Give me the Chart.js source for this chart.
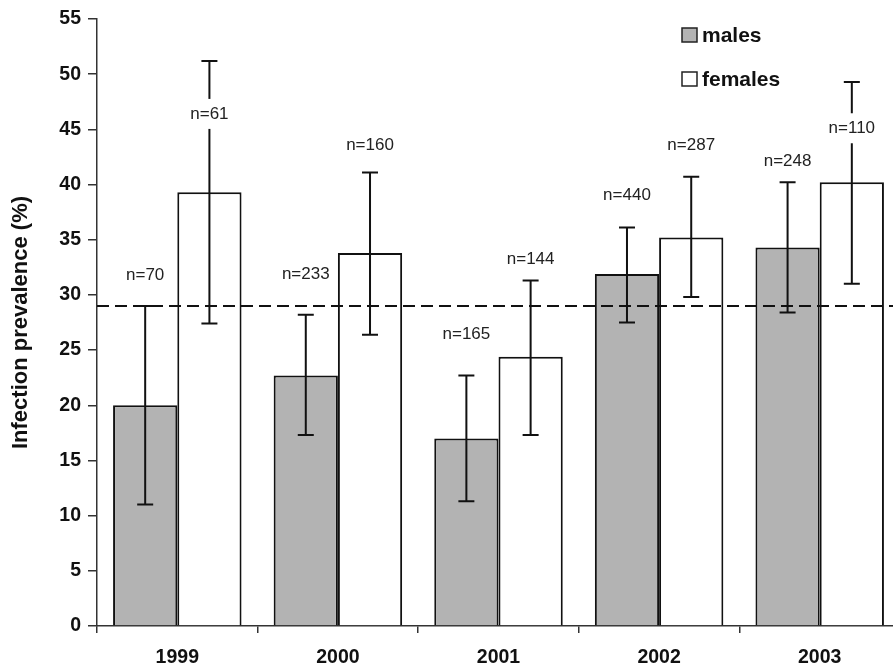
<!DOCTYPE html>
<html>
<head>
<meta charset="utf-8">
<script src="https://cdn.jsdelivr.net/npm/chart.js@4.4.1/dist/chart.umd.min.js"></script>
<style>
    html, body { margin: 0; padding: 0; background: #fff; overflow: hidden; }
    #wrap { width: 905px; height: 666px; }
</style>
</head>
<body>
<div id="wrap"><canvas id="myChart"></canvas></div>
<script>
const years = ["1999", "2000", "2001", "2002", "2003"];
const yTicks = [0, 5, 10, 15, 20, 25, 30, 35, 40, 45, 50, 55];

const males = [20.0, 22.7, 17.0, 31.9, 34.3];
const malesLow = [11.0, 17.3, 11.3, 27.5, 28.4];
const malesHigh = [29.0, 28.2, 22.7, 36.1, 40.2];
const malesN = [70, 233, 165, 440, 248];
const malesNAt = [31.8, 31.9, 26.4, 39.0, 42.1];

const females = [39.3, 33.8, 24.4, 35.2, 40.2];
const femalesLow = [27.4, 26.4, 17.3, 29.8, 31.0];
const femalesHigh = [51.2, 41.1, 31.3, 40.7, 49.3];
const femalesN = [61, 160, 144, 287, 110];
const femalesNAt = [46.4, 43.6, 33.2, 43.6, 45.1];

// mean prevalence (dashed line)
const overall = 29;

const errors = [
    { low: malesLow, high: malesHigh, n: malesN, at: malesNAt },
    { low: femalesLow, high: femalesHigh, n: femalesN, at: femalesNAt }
];

const extras = {
    id: "extras",
    afterDatasetsDraw(chart) {
        const ctx = chart.ctx;
        const yAxis = chart.scales.y;
        const area = chart.chartArea;

        // dashed reference line
        const yl = yAxis.getPixelForValue(overall);
        ctx.save();
        ctx.strokeStyle = "#111";
        ctx.lineWidth = 2;
        ctx.setLineDash([12, 6]);
        ctx.beginPath();
        ctx.moveTo(area.left, yl);
        ctx.lineTo(area.right, yl);
        ctx.stroke();
        ctx.restore();

        // error bars
        ctx.save();
        ctx.strokeStyle = "#111";
        ctx.lineWidth = 2;
        errors.forEach((err, d) => {
            const meta = chart.getDatasetMeta(d);
            meta.data.forEach((bar, i) => {
                const yHi = yAxis.getPixelForValue(err.high[i]);
                const yLo = yAxis.getPixelForValue(err.low[i]);
                ctx.beginPath();
                ctx.moveTo(bar.x, yHi);
                ctx.lineTo(bar.x, yLo);
                ctx.moveTo(bar.x - 8, yHi);
                ctx.lineTo(bar.x + 8, yHi);
                ctx.moveTo(bar.x - 8, yLo);
                ctx.lineTo(bar.x + 8, yLo);
                ctx.stroke();
            });
        });
        ctx.restore();

        // n= labels
        ctx.save();
        ctx.font = "17px 'Liberation Sans', Arial, sans-serif";
        ctx.textAlign = "center";
        ctx.textBaseline = "middle";
        errors.forEach((err, d) => {
            const meta = chart.getDatasetMeta(d);
            meta.data.forEach((bar, i) => {
                const txt = "n=" + err.n[i];
                const y = yAxis.getPixelForValue(err.at[i]);
                const w = ctx.measureText(txt).width;
                ctx.fillStyle = "#fff";
                ctx.fillRect(bar.x - w / 2 - 3, y - 15, w + 6, 30);
                ctx.fillStyle = "#222";
                ctx.fillText(txt, bar.x, y);
            });
        });
        ctx.restore();

        // legend
        ctx.save();
        ctx.font = "bold 21px 'Liberation Sans', Arial, sans-serif";
        ctx.textBaseline = "middle";
        ctx.textAlign = "left";
        const rows = [35, 79];
        chart.data.datasets.forEach((ds, d) => {
            const cy = rows[d];
            ctx.fillStyle = ds.backgroundColor;
            ctx.fillRect(682, cy - 7, 15, 14);
            ctx.strokeStyle = "#222";
            ctx.lineWidth = 1.5;
            ctx.strokeRect(682, cy - 7, 15, 14);
            ctx.fillStyle = "#111";
            ctx.fillText(ds.label, 702, cy + 1);
        });
        ctx.restore();
    }
};

function crearGrafico() {
    const myChart = document.getElementById("myChart");
    const config = {
        type: "bar",
        data: {
            labels: years,
            datasets: [
                {
                    label: "males",
                    data: males,
                    backgroundColor: "#b3b3b3",
                    borderColor: "#111",
                    borderWidth: 2
                },
                {
                    label: "females",
                    data: females,
                    backgroundColor: "#ffffff",
                    borderColor: "#111",
                    borderWidth: 2
                }
            ]
        },
        options: {
            responsive: true,
            maintainAspectRatio: false,
            animation: false,
            layout: { padding: { top: 19, right: 5, left: 0, bottom: 0 } },
            datasets: {
                bar: { categoryPercentage: 0.8, barPercentage: 1.0 }
            },
            plugins: {
                legend: { display: false },
                tooltip: { enabled: false }
            },
            scales: {
                x: {
                    grid: {
                        offset: true,
                        drawOnChartArea: false,
                        drawTicks: true,
                        tickLength: 7,
                        color: "#333",
                        lineWidth: 1.5
                    },
                    border: { color: "#333", width: 1.5 },
                    ticks: {
                        color: "#111",
                        padding: 13,
                        font: { family: "'Liberation Sans', Arial, sans-serif", weight: "bold", size: 19.5 }
                    },
                    afterFit(scale) {
                        scale.height = 40;
                    }
                },
                y: {
                    min: 0,
                    max: 55,
                    afterBuildTicks(scale) {
                        scale.ticks = yTicks.map((v) => ({ value: v }));
                    },
                    grid: {
                        drawOnChartArea: false,
                        drawTicks: true,
                        tickLength: 9,
                        color: "#333",
                        lineWidth: 1.5
                    },
                    border: { color: "#333", width: 1.5 },
                    ticks: {
                        color: "#111",
                        padding: 7,
                        font: { family: "'Liberation Sans', Arial, sans-serif", weight: "bold", size: 19.5 }
                    },
                    title: {
                        display: true,
                        text: "Infection prevalence (%)",
                        color: "#111",
                        padding: { top: 8, bottom: 0 },
                        font: { family: "'Liberation Sans', Arial, sans-serif", weight: "bold", size: 22 }
                    },
                    afterFit(scale) {
                        scale.width = 97;
                    }
                }
            }
        },
        plugins: [extras]
    };
    new Chart(myChart, config);
}
crearGrafico();
</script>
</body>
</html>
